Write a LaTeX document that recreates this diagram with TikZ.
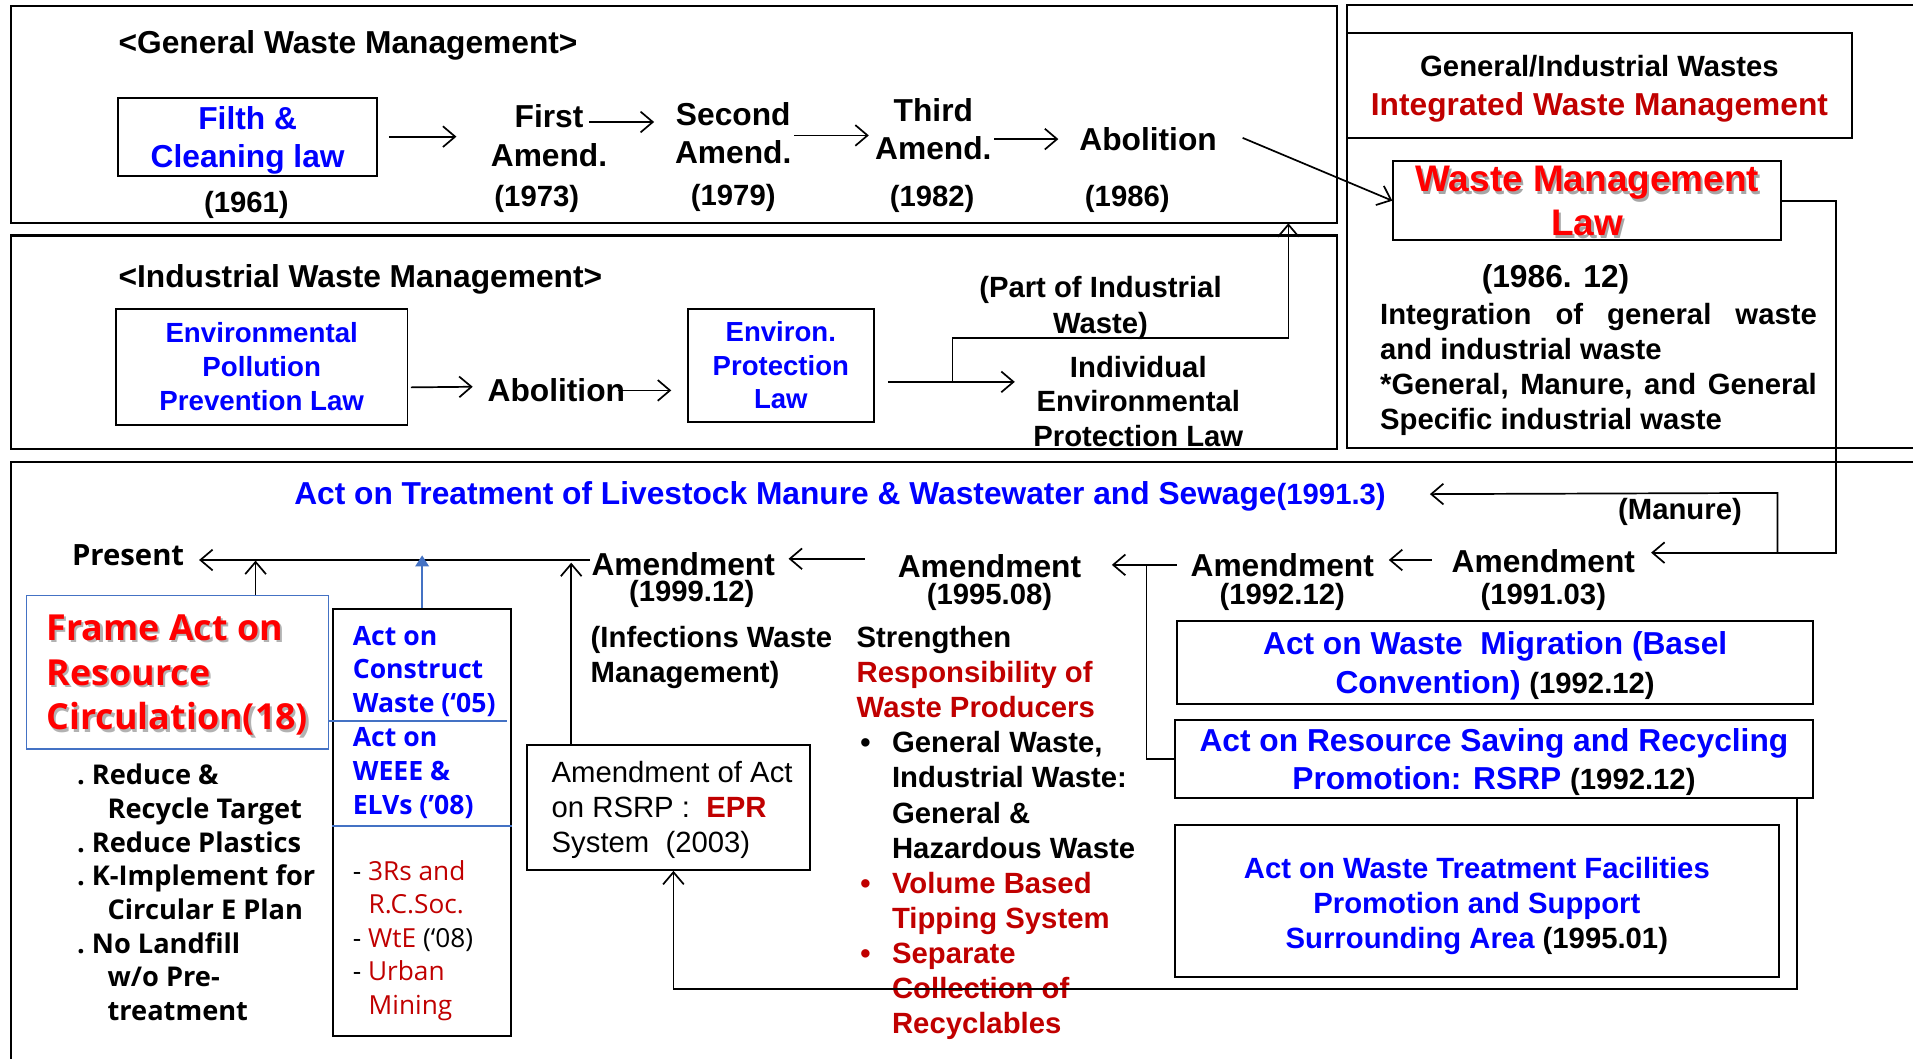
\documentclass[tikz,border=0pt]{standalone}
\usepackage{fontspec}
\setmainfont{Liberation Sans}
\newfontfamily\mg{Open Sans}
\usetikzlibrary{arrows.meta,calc}
\definecolor{pblue}{RGB}{0,0,255}
\definecolor{dred}{RGB}{192,0,0}
\definecolor{bred}{RGB}{255,0,0}
\definecolor{sblue}{RGB}{68,114,196}
\newcommand{\fsz}[2]{\fontsize{#1}{#2}\selectfont}
\begin{document}
\begin{tikzpicture}[x=1pt,y=-1pt,
 lbl/.style={inner sep=0pt, align=center},
 bx/.style={draw, line width=1.6pt, inner sep=0pt},
 arr/.style={line width=1.4pt,-{Straight Barb[length=10pt,width=17pt,line width=1.4pt]}},
 barr/.style={sblue,line width=1.6pt,-{Triangle[length=9pt,width=11pt]}},
 ln/.style={line width=1.4pt},
 frm/.style={line width=1.8pt},
 ]
\useasboundingbox (0,0) rectangle (1568,868);

% ---------------- General waste box
\draw[frm] (9,5) rectangle (1096,183);
\node[lbl, anchor=west, font=\bfseries\fsz{26}{30}] (gwm) at (97,37) {<General Waste Management>};
\node[bx, minimum width=212, minimum height=64] (filth) at (203,112) {};
\node[lbl, text=pblue, font=\bfseries\fsz{26}{31}] (filtht) at (203,115) {Filth \&\\Cleaning law};
\node[lbl, font=\bfseries\fsz{24}{28}] (y61) at (202,168) {(1961)};
\node[lbl, font=\bfseries\fsz{26}{32}] (am1) at (450,111) {First\\Amend.};
\node[lbl, font=\bfseries\fsz{26}{31}] (am2) at (601,109) {Second\\Amend.};
\node[lbl, font=\bfseries\fsz{26}{31}] (am3) at (765,106) {Third\\Amend.};
\node[lbl, font=\bfseries\fsz{26}{31}] (abo1) at (941,114) {Abolition};
\node[lbl, font=\bfseries\fsz{24}{28}] (y73) at (440,163) {(1973)};
\node[lbl, font=\bfseries\fsz{24}{28}] (y79) at (601,162) {(1979)};
\node[lbl, font=\bfseries\fsz{24}{28}] (y82) at (764,163) {(1982)};
\node[lbl, font=\bfseries\fsz{24}{28}] (y86) at (924,163) {(1986)};

\draw[arr] ($(filth.east)+(9,0)$) -- ($(am1.west)+(-28,1)$);
\draw[arr] ($(am1.east)+(-15,-11)$) -- ($(am2.west)+(-17,-9)$);
\draw[arr] ($(am2.east)+(2,2)$) -- ($(am3.west)+(-5,5)$);
\draw[arr] ($(am3.east)+(2,8)$) -- ($(abo1.west)+(-17,0)$);

% ---------------- Industrial waste box
\draw[frm] (9,193) rectangle (1096,368);
\node[lbl, anchor=west, font=\bfseries\fsz{26}{30}] (iwm) at (97,229) {<Industrial Waste Management>};
\node[bx, minimum width=239, minimum height=95, text=pblue, align=center, font=\bfseries\fsz{22.7}{28}] (eppl) at (214.5,300.5) {Environmental\\Pollution\\Prevention Law};
\node[lbl, font=\bfseries\fsz{26}{30}] (abo2) at (456,320) {Abolition};
\node[bx, minimum width=152, minimum height=93, text=pblue, align=center, font=\bfseries\fsz{22.6}{27.5}] (epl) at (640,299.5) {Environ.\\Protection\\Law};
\node[lbl, font=\bfseries\fsz{24}{29}] (part) at (902,252.5) {(Part of Industrial\\Waste)};
\node[lbl, font=\bfseries\fsz{24}{28}] (indiv) at (933,329) {Individual\\Environmental\\Protection Law};
\coordinate (gtop) at (1056,183);

\draw[arr] ($(eppl.east)+(2,17)$) -- ($(abo2.west)+(-12,-3)$);
\draw[arr] ($(abo2.east)+(-6,0)$) -- ($(epl.west)+(-13,20.5)$);
\draw[arr] ($(epl.east)+(11,13.5)$) -- ($(indiv.west)+(-15,-16)$);
\coordinate (br) at ($(epl.east)+(64,13.5)$);
\draw[arr] (br) |- (1056,277) -- (gtop);

% ---------------- Right box
\draw[frm] (1568,4) -- (1104,4) -- (1104,367) -- (1568,367);
\node[bx, minimum width=414, minimum height=86] (gihdr) at (1311,70) {};
\node[lbl, font=\bfseries\fsz{26}{32}] (gihdrt) at (1311,73) {{\fsz{24}{32}General/Industrial Wastes}\\\textcolor{dred}{Integrated Waste Management}};
\node[bx, minimum width=318, minimum height=65] (wml) at (1301,164.5) {};
\node[lbl, text=black!35, font=\bfseries\fsz{30.3}{36}] (wmls) at (1302.8,166.8) {Waste Management\\Law};
\node[lbl, text=bred, font=\bfseries\fsz{30.3}{36}] (wmlt) at (1301,165) {Waste Management\\Law};
\node[lbl, font=\bfseries\fsz{26}{30}] (d8612) at (1275,229) {(1986. 12)};
\node[lbl, anchor=north west, align=left, font=\bfseries\fsz{24}{28.7}] (integ) at (1131,248) {\hbox to 358pt{Integration\hfill of\hfill general\hfill waste}\\and industrial waste\\\hbox to 358pt{*General,\hfill Manure,\hfill and\hfill General}\\Specific industrial waste};

\draw[arr] ($(abo1.east)+(21,-1)$) -- (wml.west);

% ---------------- Bottom box
\draw[frm] (1568,379) -- (9,379) -- (9,868);
\node[lbl, anchor=west, text=pblue, font=\bfseries\fsz{26}{30}] (lsact) at (241,407) {Act on Treatment of Livestock Manure \& Wastewater and Sewage{\fsz{24}{30}(1991.3)}};
\node[lbl, font=\bfseries\fsz{24}{28}] (manure) at (1377,420) {(Manure)};

\node[lbl, font=\bfseries\fsz{26}{30}] (a9103) at (1265,460) {Amendment};
\node[lbl, font=\bfseries\fsz{24}{28}] (d9103) at (1265,489) {(1991.03)};
\node[lbl, font=\bfseries\fsz{26}{30}] (a9212) at (1051,463) {Amendment};
\node[lbl, font=\bfseries\fsz{24}{28}] (d9212) at (1051,489) {(1992.12)};
\node[lbl, font=\bfseries\fsz{26}{30}] (a9508) at (811,464) {Amendment};
\node[lbl, font=\bfseries\fsz{24}{28}] (d9508) at (811,489) {(1995.08)};
\node[lbl, font=\bfseries\fsz{26}{30}] (a9912) at (560,462) {Amendment};
\node[lbl, font=\bfseries\fsz{24}{28}] (d9912) at (567,487) {(1999.12)};
\node[lbl, font=\mg\bfseries\fsz{24}{28}] (present) at (105,455) {Present};

\coordinate (jm) at (1457,453);
\draw[arr] (wml.east) -- (1505,164.5) -- (1505,453) -- ($(a9103.east)+(13,-7)$);
\draw[arr] (jm) -- (1457,404) -- ($(lsact.east)+(36,-2)$);
\draw[arr] ($(a9103.west)+(-16,-1)$) -- ($(a9212.east)+(12,-4)$);
\draw[arr] ($(a9212.west)+(-11,0)$) -- ($(a9508.east)+(25,-1)$);
\draw[arr] ($(a9508.west)+(-27,-6)$) -- ($(a9912.east)+(11,-4)$);
\draw[arr] ($(a9912.west)+(-1,-3)$) -- ($(present.east)+(12,4)$);

% Frame act
\node[draw=sblue, line width=1pt, minimum width=247, minimum height=126, inner sep=0pt] (frame) at (145.5,551) {};
\node[lbl, anchor=west, align=left, text=black!30, font=\mg\bfseries\fsz{29.4}{36.5}] (frames) at (39.8,555.3) {Frame Act on\\Resource\\Circulation(18)};
\node[lbl, anchor=west, align=left, text=bred, font=\mg\bfseries\fsz{29.4}{36.5}] (framet) at (38,553.5) {Frame Act on\\Resource\\Circulation(18)};
\node[lbl, anchor=north west, align=left, font=\mg\bfseries\fsz{22.3}{27.6}] (goals) at (63,626) {.\ Reduce \&\\\hspace*{25pt}Recycle Target\\.\ Reduce Plastics\\.\ K-Implement for\\\hspace*{25pt}Circular E Plan\\.\ No Landfill\\\hspace*{25pt}w/o Pre-\\\hspace*{25pt}treatment};
\draw[arr] ($(frame.north west)+(188,0)$) -- ++(0,-28);

% middle box
\node[draw, line width=1.6pt, minimum width=146, minimum height=350, inner sep=0pt] (mid) at (346,674) {};
\draw[sblue, line width=0.9pt] (frame.east |- 0,591) -- ($(mid.east |- 0,591)+(-4,0)$);
\draw[sblue, line width=1.6pt] (mid.west |- 0,677) -- (mid.east |- 0,677);
\node[lbl, anchor=north west, align=left, text=pblue, font=\mg\bfseries\fsz{21.8}{27.7}] (acts) at (289,513) {Act on\\Construct\\Waste (‘05)\\Act on\\WEEE \&\\ELVs (’08)};
\node[lbl, anchor=north west, align=left, font=\mg\fsz{21.5}{27.5}] (subl) at (289,705) {- \textcolor{dred}{3Rs and}\\\hspace*{13pt}\textcolor{dred}{R.C.Soc.}\\- \textcolor{dred}{WtE} (‘08)\\- \textcolor{dred}{Urban}\\\hspace*{13pt}\textcolor{dred}{Mining}};
\draw[barr] (mid.north) -- ++(0,-43);

% Amendment of act on RSRP
\node[bx, minimum width=232, minimum height=102] (amact) at (548,662) {};
\node[lbl, anchor=north west, align=left, font=\fsz{24}{28.5}] (amactt) at (452,624) {Amendment of Act\\on RSRP :\ \ \textcolor{dred}{\bfseries EPR}\\System\ \ (2003)};
\draw[arr] ($(amact.north west)+(37,0)$) -- ++(0,-149);

\node[lbl, anchor=north west, align=left, font=\bfseries\fsz{24}{29}] (infect) at (484,513) {(Infections Waste\\Management)};

\node[lbl, anchor=north west, align=left, font=\bfseries\fsz{24}{28.8}] (strength) at (702,513) {Strengthen\\\textcolor{dred}{Responsibility of}\\\textcolor{dred}{Waste Producers}\\\hspace*{3pt}\makebox[26pt][l]{•}General Waste,\\\hspace*{29pt}Industrial Waste:\\\hspace*{29pt}General \&\\\hspace*{29pt}Hazardous Waste\\\color{dred}\hspace*{3pt}\makebox[26pt][l]{•}Volume Based\\\color{dred}\hspace*{29pt}Tipping System\\\color{dred}\hspace*{3pt}\makebox[26pt][l]{•}Separate\\\color{dred}\hspace*{29pt}Collection of\\\color{dred}\hspace*{29pt}Recyclables};

% Right boxes
\node[bx, minimum width=521, minimum height=68] (basel) at (1225.5,543) {};
\node[lbl, font=\bfseries\fsz{26}{32}] (baselt) at (1225.5,546) {\textcolor{pblue}{Act on Waste\ \ Migration (Basel}\\\textcolor{pblue}{Convention)} {\fsz{24}{32}(1992.12)}};
\node[bx, minimum width=523, minimum height=64] (rsrp) at (1224.5,622) {};
\node[lbl, font=\bfseries\fsz{26}{31}] (rsrpt) at (1224.5,624.5) {\textcolor{pblue}{Act on Resource Saving and Recycling}\\\textcolor{pblue}{Promotion: RSRP} {\fsz{24}{31}(1992.12)}};
\node[bx, minimum width=495, minimum height=125] (fac) at (1210.5,738.5) {};
\node[lbl, text=pblue, font=\bfseries\fsz{24}{29}] (fact) at (1210.5,742.5) {Act on Waste Treatment Facilities\\Promotion and Support\\Surrounding Area \textcolor{black}{(1995.01)}};

\coordinate (tj) at ($(a9212.west)+(-36,0)$);
\draw[ln] (tj) |- (rsrp.west);
\draw[arr] ($(rsrp.south east)+(-14,0)$) -- ($(rsrp.south east)+(-14,156)$) -| (amact.south -| 552,0);
\end{tikzpicture}
\end{document}
